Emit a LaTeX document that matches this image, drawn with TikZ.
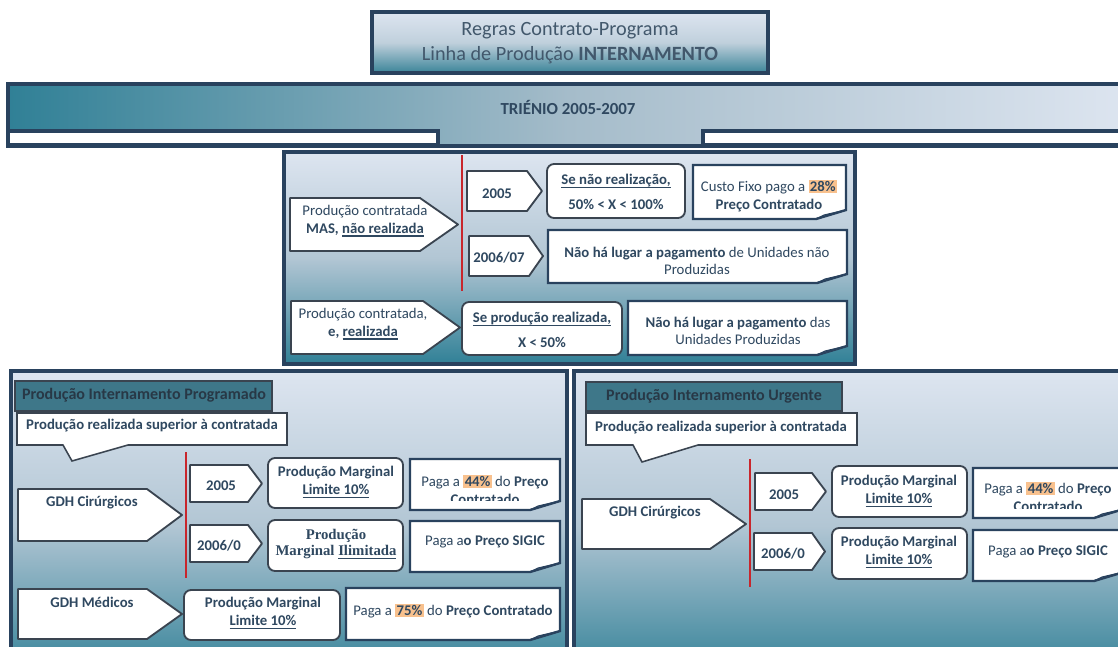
\documentclass[tikz,border=0pt]{standalone}
\usepackage{fontspec}
\setmainfont{Carlito}
\newfontfamily\timesbold{Liberation Serif}

\definecolor{framec}{RGB}{41,66,94}
\definecolor{textc}{RGB}{47,72,96}
\definecolor{titlec}{RGB}{66,88,108}
\definecolor{headtxt}{RGB}{40,56,70}
\definecolor{shadetop}{RGB}{221,229,240}
\definecolor{shademid}{RGB}{178,198,212}
\definecolor{shadebot}{RGB}{48,128,150}
\definecolor{titlemid}{RGB}{192,208,220}
\definecolor{titlebot}{RGB}{58,132,152}
\definecolor{bannermid}{RGB}{165,188,202}
\definecolor{headc}{RGB}{62,119,137}
\definecolor{hlc}{RGB}{248,193,142}
\definecolor{redc}{RGB}{200,38,44}
\definecolor{boxline}{RGB}{58,68,80}
\definecolor{foldc}{RGB}{196,204,214}

\newcommand{\hlt}[1]{{\setlength{\fboxsep}{1pt}\colorbox{hlc}{#1}}}
% underline at a fixed depth
\newsavebox\ulbox
\newcommand{\ulin}[1]{\sbox\ulbox{#1}\rlap{\rule[-2.4pt]{\wd\ulbox}{0.8pt}}\usebox\ulbox}
% arrow-shaped label: x1, y1, x2 (tip), y2, x where the point starts
\newcommand{\tagshape}[5]{%
  \draw[tagbox] (#1,#2) -- (#5,#2) -- (#3,{(#2+#4)/2}) -- (#5,#4) -- (#1,#4) -- cycle;}
% note with a turned-up corner
\newcommand{\noteshape}[4]{%
  \draw[notebox] (#1,#2) -- (#3,#2) -- (#3,#4-9) -- (#3-30,#4) -- (#1,#4) -- cycle;
  \draw[fold] (#3-30,#4) -- (#3,#4-9) -- (#3-22,#4-4) -- cycle;}

\begin{document}
\begin{tikzpicture}[x=0.025cm, y=-0.025cm,
  txt/.style={text=textc, align=center, inner sep=0pt, font=\fontsize{10.5}{12.5}\selectfont},
  frame/.style={draw=framec, line width=2.2pt},
  panel/.style={frame, top color=shadetop, bottom color=shadebot, middle color=shademid},
  tagbox/.style={draw=boxline, line width=1.3pt, fill=white, line join=round},
  roundbox/.style={tagbox, rounded corners=5pt},
  notebox/.style={draw=framec, line width=1.7pt, fill=white},
  fold/.style={draw=framec, line width=0.8pt, fill=foldc, line join=round},
  bubble/.style={tagbox, line width=1.1pt, line join=miter},
  headbox/.style={draw=boxline, line width=1pt, fill=headc},
  redline/.style={draw=redc, line width=1.5pt}]
\useasboundingbox (0,0) rectangle (1118,646);
\clip (0,0) rectangle (1118,646);

% heading and period banner
\draw[frame, top color=shadetop, bottom color=titlebot, middle color=titlemid] (372,12) rectangle (768,73);
\node[txt, text=titlec, font=\fontsize{14.4}{17.8}\selectfont] (title) at (570,43) {Regras Contrato-Programa\\Linha de Produção \textbf{INTERNAMENTO}};
\draw[frame, left color=shadebot, right color=shadetop, middle color=bannermid] (8,84) rectangle (1130,146);
\draw[frame, fill=white] (8,131) rectangle (438,145);
\draw[frame, fill=white] (703,131) rectangle (1130,145);
\node[txt, font=\fontsize{12}{14}\selectfont\bfseries] (trienio) at (568,107) {TRIÉNIO 2005-2007};

% contracted production
\draw[panel] (284,152) rectangle (855,364);
\tagshape{290}{198}{458}{251}{420}
\draw[redline] (462,155) -- (462,291);
\tagshape{467}{171}{542}{211}{527}
\tagshape{469}{236}{543}{276}{529}
\draw[roundbox] (547,164) rectangle (685,218);
\noteshape{693}{165}{846}{219}
\noteshape{548}{230}{847}{283}
\tagshape{291}{301}{460}{354}{423}
\draw[roundbox] (462,302) rectangle (622,355);
\noteshape{628}{301}{847}{355}

\node[txt] (mas) at (365,221) {Produção contratada\\\textbf{MAS, \ulin{não realizada}}};
\node[txt, font=\fontsize{10.5}{12.5}\selectfont\bfseries] (ano05a) at (497,194) {2005};
\node[txt, font=\fontsize{10.5}{12.5}\selectfont\bfseries] (ano06a) at (499,258) {2006/07};
\node[txt, font=\fontsize{10.5}{12.5}\selectfont\bfseries] (senao) at (616,192) {\ulin{Se não realização,}\\[5pt]50\% < X < 100\%};
\node[txt] (custo) at (769,196) {Custo Fixo pago a \hlt{\textbf{28\%}}\\\textbf{Preço Contratado}};
\node[txt] (naoha1) at (697,261) {\textbf{Não há lugar a pagamento} de Unidades não\\Produzidas};
\node[txt] (realiz) at (363,324) {Produção contratada,\\\textbf{e, \ulin{realizada}}};
\node[txt, font=\fontsize{10.5}{12.5}\selectfont\bfseries] (seprod) at (542,330) {\ulin{Se produção realizada,}\\[5pt]X < 50\%};
\node[txt] (naoha2) at (738,331) {\textbf{Não há lugar a pagamento} das\\Unidades Produzidas};

% scheduled inpatient production
\draw[panel] (11,371) rectangle (567,680);
\draw[headbox] (15,381) rectangle (272,411);
\draw[bubble] (17,413) -- (287,413) -- (287,445) -- (128,445) -- (72,461) -- (63,445) -- (17,445) -- cycle;
\draw[redline] (186,452) -- (186,578);
\tagshape{18}{489}{182}{541}{147}
\tagshape{190}{465}{262}{502}{248}
\tagshape{190}{525}{262}{562}{248}
\draw[roundbox] (268,458) rectangle (403,508);
\draw[roundbox] (268,520) rectangle (403,571);
\noteshape{410}{459}{560}{510}
\noteshape{410}{521}{560}{572}
\tagshape{18}{589}{182}{639}{147}
\draw[roundbox] (184,590) rectangle (340,640);
\noteshape{346}{588}{560}{640}

\node[txt, text=headtxt, font=\fontsize{11.4}{13}\selectfont\bfseries] (progr) at (144,395) {Produção Internamento Programado};
\node[txt, font=\fontsize{10.5}{12.5}\selectfont\bfseries] (superA) at (152,426) {Produção realizada superior à contratada};
\node[txt, font=\fontsize{10.5}{12.5}\selectfont\bfseries] (cirA) at (92,503) {GDH Cirúrgicos};
\node[txt, font=\fontsize{10.5}{12.5}\selectfont\bfseries] (ano05b) at (221,486) {2005};
\node[txt, font=\fontsize{10.5}{12.5}\selectfont\bfseries] (ano06b) at (219,546) {2006/0};
\node[txt, font=\fontsize{10.5}{12.5}\selectfont\bfseries] (margA) at (336,482) {Produção Marginal\\\ulin{Limite 10\%}};
\node[txt, font=\timesbold\fontsize{10.5}{12}\selectfont\bfseries] (ilim) at (336,544) {Produção\\Marginal \ulin{Ilimitada}};
\begin{scope}
\clip (410,459) rectangle (560,500);
\node[txt] (paga44a) at (485,490) {Paga a \hlt{\textbf{44\%}} do \textbf{Preço}\\\textbf{Contratado}};
\end{scope}
\node[txt] (sigicA) at (485,542) {Paga a\textbf{o Preço SIGIC}};
\node[txt, font=\fontsize{10.5}{12.5}\selectfont\bfseries] (medicos) at (92,602) {GDH Médicos};
\node[txt, font=\fontsize{10.5}{12.5}\selectfont\bfseries] (margB) at (263,613) {Produção Marginal\\\ulin{Limite 10\%}};
\node[txt] (paga75) at (453,611) {Paga a \hlt{\textbf{75\%}} do \textbf{Preço Contratado}};

% urgent inpatient production
\draw[panel] (574,371) rectangle (1130,680);
\draw[headbox] (586,382) rectangle (842,411);
\draw[bubble] (586,413) -- (857,413) -- (857,445) -- (698,445) -- (642,462) -- (633,445) -- (586,445) -- cycle;
\draw[redline] (750,459) -- (750,587);
\tagshape{582}{499}{746}{549}{710}
\tagshape{755}{473}{826}{510}{812}
\tagshape{754}{533}{825}{570}{812}
\draw[roundbox] (832,466) rectangle (967,517);
\draw[roundbox] (832,528) rectangle (967,579);
\noteshape{973}{468}{1124}{518}
\noteshape{973}{530}{1124}{581}

\node[txt, text=headtxt, font=\fontsize{11.4}{13}\selectfont\bfseries] (urg) at (714,396) {Produção Internamento Urgente};
\node[txt, font=\fontsize{10.5}{12.5}\selectfont\bfseries] (superB) at (721,428) {Produção realizada superior à contratada};
\node[txt, font=\fontsize{10.5}{12.5}\selectfont\bfseries] (cirB) at (655,513) {GDH Cirúrgicos};
\node[txt, font=\fontsize{10.5}{12.5}\selectfont\bfseries] (ano05c) at (784,495) {2005};
\node[txt, font=\fontsize{10.5}{12.5}\selectfont\bfseries] (ano06c) at (783,554) {2006/0};
\node[txt, font=\fontsize{10.5}{12.5}\selectfont\bfseries] (margC) at (899,491) {Produção Marginal\\\ulin{Limite 10\%}};
\node[txt, font=\fontsize{10.5}{12.5}\selectfont\bfseries] (margD) at (899,552) {Produção Marginal\\\ulin{Limite 10\%}};
\begin{scope}
\clip (973,468) rectangle (1124,508);
\node[txt] (paga44b) at (1048,497) {Paga a \hlt{\textbf{44\%}} do \textbf{Preço}\\\textbf{Contratado}};
\end{scope}
\node[txt] (sigicB) at (1048,552) {Paga a\textbf{o Preço SIGIC}};
\end{tikzpicture}
\end{document}
